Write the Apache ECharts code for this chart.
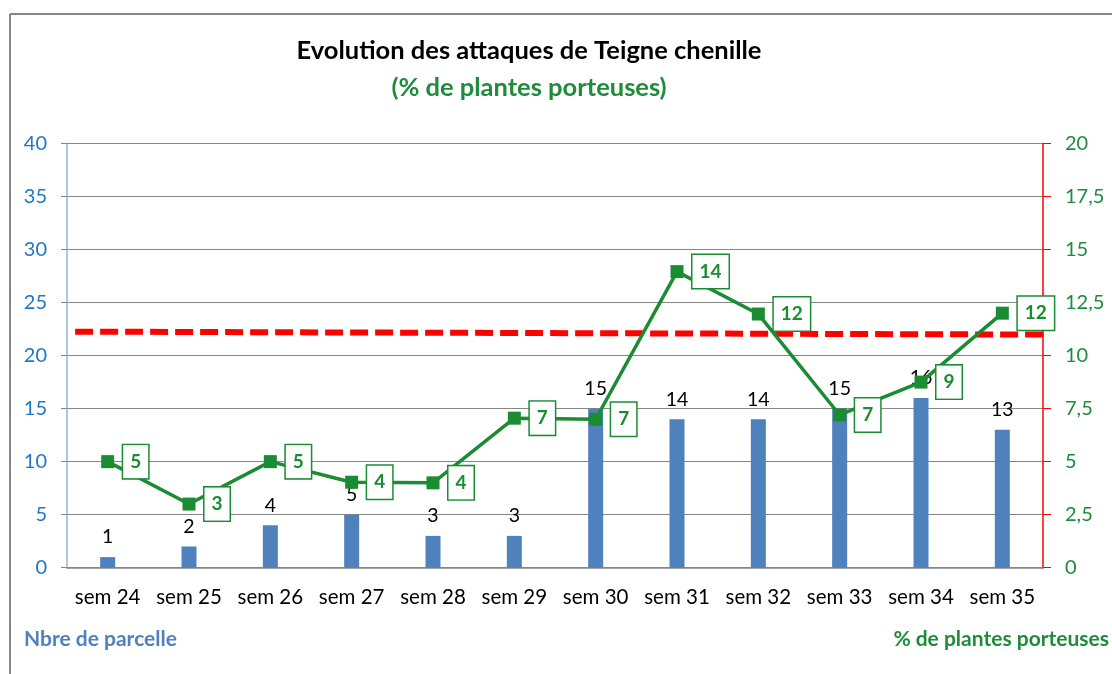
<!DOCTYPE html>
<html>
<head>
<meta charset="utf-8">
<script src="https://cdn.jsdelivr.net/npm/echarts@6/dist/echarts.min.js"></script>
<style>
html,body{margin:0;padding:0;background:#fff;}
#c{width:1112px;height:674px;}
</style>
</head>
<body>
<div id="c"></div>
<script>
const categories = ['sem 24','sem 25','sem 26','sem 27','sem 28','sem 29','sem 30','sem 31','sem 32','sem 33','sem 34','sem 35'];
const nbreParcelle = [1,2,4,5,3,3,15,14,14,15,16,13];
const pctPlantes = [5,3,5,4.03,4,7.05,7,13.96,11.96,7.2,8.75,12];
const pctLabels = [5,3,5,4,4,7,7,14,12,7,9,12];
const seuilLine = [[0.1,11.13],[12.02,10.99]];
const leftTicks = {min:0,max:40,interval:5};
const rightTicks = {min:0,max:20,interval:2.5};

const FONT = 'Lato';
const chart = echarts.init(document.getElementById('c'), null, {renderer:'canvas'});
chart.setOption({
  animation:false,
  backgroundColor:'#fff',
  title:{
    text:'Evolution des attaques de Teigne chenille',
    subtext:'(% de plantes porteuses)',
    left:524, textAlign:'center', top:33, itemGap:11,
    textStyle:{fontFamily:FONT,fontSize:25.5,fontWeight:'bold',color:'#000'},
    subtextStyle:{fontFamily:FONT,fontSize:25.5,fontWeight:'bold',color:'#1E8C3A'}
  },
  graphic:[
    {type:'line',shape:{x1:10,y1:14,x2:1112,y2:14},style:{stroke:'#868686',lineWidth:2}},
    {type:'line',shape:{x1:10,y1:14,x2:10,y2:674},style:{stroke:'#868686',lineWidth:2}},
    {type:'text',left:24,top:629,style:{text:'Nbre de parcelle',fill:'#4F81BD',font:'bold 21px '+FONT}},
    {type:'text',right:3,top:629,style:{text:'% de plantes porteuses',fill:'#1E8C3A',font:'bold 21px '+FONT}}
  ],
  grid:{left:67,right:69,top:143.5,bottom:106.3,containLabel:false},
  xAxis:[
    {type:'category',data:categories,
     axisLine:{lineStyle:{color:'#868686',width:1.5}},
     axisTick:{show:false},
     axisLabel:{interval:0,hideOverlap:false,color:'#000',fontFamily:FONT,fontSize:20.5,margin:19}},
    {type:'value',min:0,max:12,show:false}
  ],
  yAxis:[
    {type:'value',min:leftTicks.min,max:leftTicks.max,interval:leftTicks.interval,
     axisLine:{show:true,lineStyle:{color:'#95B3D7',width:1.5}},
     axisTick:{show:true,inside:false,length:6,lineStyle:{color:'#868686'}},
     splitLine:{lineStyle:{color:'#868686',width:1}},
     axisLabel:{color:'#1F77C8',fontFamily:FONT,fontSize:20,margin:20}},
    {type:'value',min:rightTicks.min,max:rightTicks.max,interval:rightTicks.interval,
     position:'right',
     axisLine:{show:true,lineStyle:{color:'#FF0000',width:1.5}},
     axisTick:{show:true,inside:false,length:8,lineStyle:{color:'#FF0000'}},
     splitLine:{show:false},
     axisLabel:{color:'#1E8C3A',fontFamily:FONT,fontSize:20,margin:22,
       formatter:v=>String(v).replace('.',',')}}
  ],
  series:[
    {type:'bar',name:'Nbre de parcelle',data:nbreParcelle,barWidth:15,
     itemStyle:{color:'#4F81BD'},
     label:{show:true,position:'top',distance:10,color:'#000',fontFamily:FONT,fontSize:19.5}},
    {type:'line',name:'seuil',xAxisIndex:1,yAxisIndex:1,data:seuilLine,
     symbol:'none',silent:true,z:3,
     lineStyle:{color:'#FF0000',width:6,type:[18,7]}},
    {type:'line',name:'% de plantes porteuses',yAxisIndex:1,data:pctPlantes,
     symbol:'rect',symbolSize:13,z:4,
     lineStyle:{color:'#1A8C32',width:3.5},
     itemStyle:{color:'#1A8C32'},
     label:{show:true,position:'right',distance:9,
       formatter:p=>String(pctLabels[p.dataIndex]),
       color:'#1A8C32',fontFamily:FONT,fontSize:19,fontWeight:'bold',
       backgroundColor:'#fff',borderColor:'#1A8C32',borderWidth:1.5,
       padding:[8,7,6,7]}}
  ]
});
</script>
</body>
</html>
